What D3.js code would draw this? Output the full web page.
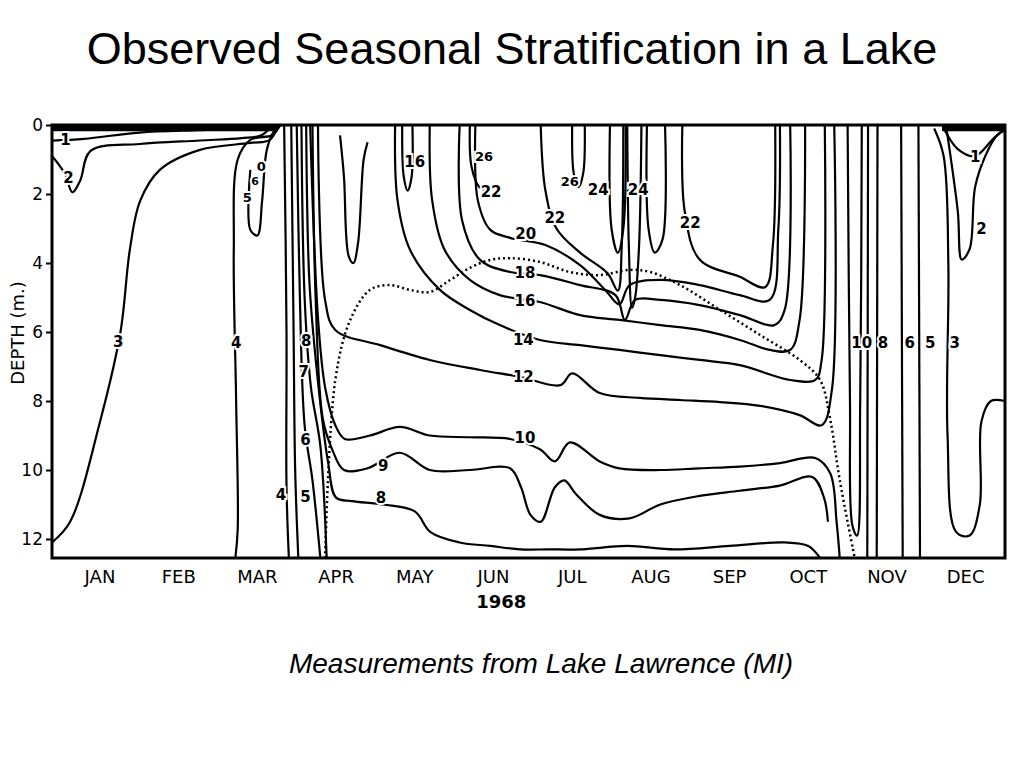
<!DOCTYPE html>
<html><head><meta charset="utf-8">
<script src="https://cdn.jsdelivr.net/npm/d3@7"></script>
<style>body{margin:0;background:#fff}</style></head>
<body><svg id="c" width="1024" height="768"></svg>
<script>
const months=["JAN","FEB","MAR","APR","MAY","JUN","JUL","AUG","SEP","OCT","NOV","DEC"];
const depthTicks=[0,2,4,6,8,10,12];
// isotherms: [month, depth]
const iso1=[[-0.11,0.45],[0.3,0.4],[1,0.22],[1.77,0.15],[2.4,0.1],[2.66,0]];
const iso2=[[-0.11,0.9],[0.05,1.4],[0.15,1.95],[0.25,1.6],[0.38,0.75],[1,0.55],[1.77,0.45],[2.3,0.38],[2.55,0.3],[2.66,0.08]];
const iso3=[[-0.11,12.1],[0.12,11.5],[0.5,8.6],[0.76,6],[0.88,3.6],[1.01,2.2],[1.26,1.3],[1.77,0.72],[2.41,0.52],[2.66,0.43],[2.76,0]];
const iso4=[[2.22,12.55],[2.25,11.7],[2.23,8],[2.2,3.6],[2.25,1.0],[2.41,0.43],[2.69,0.29],[2.79,0]];
const iso5=[[2.41,1.3],[2.41,3.04],[2.5,3.2],[2.56,2.2],[2.62,0.72],[2.72,0.15],[2.8,0]];
const iso4b=[[2.84,0],[2.87,6],[2.87,10.5],[2.9,12.55]];
const iso5b=[[2.93,0],[2.96,6],[2.98,10],[3.02,12.55]];
const iso6=[[3.0,0],[3.04,5],[3.1,8.7],[3.2,10.3],[3.3,12.55]];
const iso7=[[3.06,0],[3.1,5],[3.18,7.6],[3.3,9.3],[3.38,12.55]];
const iso8=[[3.12,0],[3.16,4.5],[3.25,7],[3.4,9.8],[3.5,10.8],[3.7,10.9],[4.1,11.0],[4.5,11.2],[4.7,11.8],[5.07,12.1],[5.46,12.2],[5.84,12.3],[6.2,12.3],[6.6,12.3],[7.2,12.2],[7.8,12.3],[8.5,12.2],[9.2,12.1],[9.5,12.2],[9.65,12.55]];
const iso9=[[3.2,0],[3.24,5],[3.33,8.5],[3.45,9.4],[3.6,10.0],[3.9,9.95],[4.31,9.5],[4.69,10.0],[5.2,10.0],[5.71,9.95],[5.85,10.5],[5.97,11.3],[6.1,11.5],[6.28,10.5],[6.4,10.3],[6.55,10.7],[6.85,11.3],[7.23,11.4],[7.62,11.0],[8.12,10.75],[8.63,10.6],[9.14,10.45],[9.55,10.2],[9.7,10.8],[9.75,11.5]];
const iso10=[[3.17,0],[3.27,5.59],[3.36,7.6],[3.49,8.7],[3.61,9.1],[3.93,9.0],[4.31,8.75],[4.69,9.0],[5.2,9.05],[5.71,9.1],[6.09,9.4],[6.28,9.75],[6.47,9.2],[6.85,9.75],[7.1,9.95],[7.62,10.0],[8.12,9.95],[8.63,9.9],[9.14,9.8],[9.59,9.65],[9.78,10.1],[9.86,11.5],[9.9,12.55]];
const iso12=[[3.27,0],[3.36,5.07],[3.49,5.94],[4.06,6.38],[4.69,6.81],[5.33,7.1],[5.84,7.3],[6.35,7.54],[6.5,7.2],[6.85,7.77],[7.36,7.91],[7.87,7.97],[8.38,8.03],[8.89,8.14],[9.39,8.41],[9.67,8.7],[9.8,7.68],[9.83,0]];
const iso14=[[4.25,0],[4.28,2.17],[4.44,3.62],[4.82,4.78],[5.2,5.36],[5.58,5.8],[6.09,6.23],[6.6,6.38],[7.1,6.52],[7.62,6.67],[8.12,6.81],[8.63,6.96],[9.27,7.39],[9.59,7.39],[9.67,6.81],[9.71,0]];
const iso16=[[4.69,0],[4.72,2.17],[4.88,3.62],[5.2,4.49],[5.58,4.93],[6.09,5.13],[6.6,5.51],[7.1,5.65],[7.62,5.8],[8.12,5.94],[8.63,6.23],[9.01,6.52],[9.27,6.52],[9.39,5.65],[9.46,0]];
const iso18=[[5.07,0],[5.1,2.75],[5.33,3.91],[5.71,4.26],[6.09,4.35],[6.6,4.64],[7.05,4.93],[7.17,5.65],[7.3,5.07],[7.62,5.07],[8.12,5.22],[8.63,5.51],[9.07,5.8],[9.2,5.36],[9.27,0]];
const iso20=[[5.27,0],[5.3,2.17],[5.46,3.04],[5.71,3.27],[6.16,3.48],[6.6,4.06],[6.92,4.78],[7.1,5.2],[7.23,4.64],[7.62,4.49],[8.12,4.64],[8.63,4.93],[9.01,5.07],[9.12,3],[9.14,0]];
const iso22a=[[5.2,0],[5.22,1.2],[5.32,1.8],[5.4,1.9]];
const iso22b=[[6.1,0],[6.16,1.9],[6.3,3.0],[6.6,3.7],[6.95,4.3],[7.08,4.8],[7.13,3.5],[7.15,0]];
const iso22c=[[7.9,0],[7.93,2.5],[8.12,3.9],[8.63,4.4],[8.95,4.7],[9.05,3.5],[9.08,0]];
const u16=[[4.34,0],[4.36,1.5],[4.41,1.9],[4.46,1.5],[4.47,0]];
const uMay=[[3.55,0.3],[3.6,1.5],[3.66,3.8],[3.72,4.0],[3.78,3.4],[3.85,1.0],[3.9,0.5]];
const u24a=[[6.5,0],[6.52,1.4],[6.58,1.8],[6.64,1.4],[6.66,0]];
const u24b=[[6.98,0],[7.0,3.0],[7.08,3.7],[7.15,3.0],[7.18,0]];
const uNotch=[[7.2,0],[7.22,3.5],[7.26,5.3],[7.3,5.0],[7.35,3.5],[7.38,0]];
const u22=[[7.45,0],[7.47,3.0],[7.55,3.7],[7.65,3.3],[7.68,0]];
const iso12r=[[10.0,0],[10.03,8],[10.06,11.6],[10.12,11.9],[10.16,8],[10.18,0]];
const isoR1=[[10.26,0],[10.25,12.55]];
const isoR2=[[10.38,0],[10.37,12.55]];
const isoR3=[[10.68,0],[10.7,12.55]];
const isoR4=[[10.9,0],[10.92,12.55]];
const iso3r=[[11.1,0.1],[11.22,0.9],[11.28,4],[11.27,9],[11.38,11.8],[11.55,11.9],[11.68,11],[11.7,8.6],[11.82,8.0],[12.0,8.0]];
const iso2r=[[11.25,0],[11.4,2.5],[11.45,3.9],[11.55,3.6],[11.62,1.8],[11.75,0.9],[11.9,0.3],[12,0.15]];
const iso1r=[[11.2,0],[11.4,0.7],[11.62,0.9],[11.85,0.4],[12,0.1]];
const thermocline=[[3.36,12.55],[3.49,7.39],[3.68,5.65],[3.93,4.78],[4.18,4.64],[4.44,4.78],[4.69,4.84],[4.95,4.49],[5.2,4.14],[5.46,3.91],[5.71,3.86],[6.09,3.97],[6.47,4.26],[6.85,4.35],[7.23,4.2],[7.49,4.26],[7.87,4.64],[8.38,5.36],[8.89,6.09],[9.39,6.81],[9.65,7.39],[9.78,8.55],[9.9,10.29],[10.09,12.55]];
const iceL=[[-0.11,0.08],[2.75,0.08]];
const iceR=[[11.2,0.08],[12,0.08]];
const labels=[["1",0.06,0.43,15],["2",0.1,1.54,15],["3",0.73,6.29,15],["4",2.23,6.32,15],["0",2.55,1.2,13],["6",2.47,1.65,11],["5",2.37,2.09,13],["8",3.12,6.26,15],["7",3.09,7.16,15],["6",3.11,9.13,15],["4",2.8,10.72,15],["5",3.11,10.78,15],["16",4.5,1.07,15],["26",5.38,0.9,13],["22",5.47,1.94,15],["26",6.47,1.65,13],["24",6.83,1.88,15],["24",7.34,1.88,15],["22",6.28,2.7,15],["22",8.0,2.84,15],["20",5.91,3.16,15],["18",5.9,4.29,15],["16",5.9,5.1,15],["14",5.88,6.23,15],["12",5.88,7.3,15],["10",5.9,9.07,15],["9",4.1,9.88,15],["8",4.07,10.81,15],["10",10.18,6.32,15],["8",10.45,6.32,15],["6",10.79,6.32,15],["5",11.05,6.32,15],["3",11.36,6.32,15],["1",11.62,0.93,15],["2",11.7,3.01,15]];

const lines=[iso1,iso2,iso3,iso4,iso5,iso4b,iso5b,iso6,iso7,iso8,iso9,iso10,iso12,iso14,iso16,iso18,iso20,iso22a,iso22b,iso22c,u16,uMay,u24a,u24b,uNotch,u22,iso12r,isoR1,isoR2,isoR3,isoR4,iso3r,iso2r,iso1r];

const svg=d3.select("#c");
const x=d3.scaleLinear().domain([-0.11,12]).range([52,1005]);
const y=d3.scaleLinear().domain([0,12.55]).range([125,558]);
svg.append("defs").append("clipPath").attr("id","cp").append("rect").attr("x",52).attr("y",125).attr("width",953).attr("height",433);
const g=svg.append("g").attr("clip-path","url(#cp)");
const ln=d3.line().x(d=>x(d[0])).y(d=>y(d[1])).curve(d3.curveCatmullRom.alpha(0.5));
lines.forEach(l=>g.append("path").attr("d",ln(l)).attr("fill","none").attr("stroke","#000").attr("stroke-width",2.2));
g.append("path").attr("d",ln(thermocline)).attr("fill","none").attr("stroke","#000").attr("stroke-width",2.5).attr("stroke-dasharray","2,3");
[iceL,iceR].forEach(l=>g.append("path").attr("d",d3.line().x(d=>x(d[0])).y(d=>y(d[1]))(l)).attr("stroke","#000").attr("stroke-width",7));
svg.append("rect").attr("x",52).attr("y",125).attr("width",953).attr("height",433).attr("fill","none").attr("stroke","#000").attr("stroke-width",3);
labels.forEach(l=>svg.append("text").attr("x",x(l[1])).attr("y",y(l[2])).attr("text-anchor","middle").attr("dominant-baseline","central")
  .attr("font-family","DejaVu Sans").attr("font-weight","bold").attr("font-size",l[3])
  .attr("stroke","#fff").attr("stroke-width",4).attr("paint-order","stroke").text(l[0]));
const ya=svg.append("g").attr("transform","translate(52,0)").call(d3.axisLeft(y).tickValues(depthTicks).tickSize(6).tickFormat(d3.format("d")));
ya.select(".domain").remove();
ya.selectAll("line").attr("stroke-width",2);
ya.selectAll("text").attr("font-family","DejaVu Sans").attr("font-size",17).attr("x",-9);
const xm=d3.scaleBand().domain(months).range([x(0),x(12)]);
months.forEach(m=>svg.append("text").attr("x",xm(m)+xm.bandwidth()/2).attr("y",583).attr("text-anchor","middle")
  .attr("font-family","DejaVu Sans").attr("font-size",18).text(m));
svg.append("text").attr("x",x(5.6)).attr("y",608).attr("text-anchor","middle").attr("font-family","DejaVu Sans").attr("font-weight","bold").attr("font-size",18).text("1968");
svg.append("text").attr("transform","translate(24,333) rotate(-90)").attr("text-anchor","middle").attr("font-family","DejaVu Sans").attr("font-size",18).text("DEPTH (m.)");
svg.append("text").attr("x",512).attr("y",64).attr("text-anchor","middle").attr("font-family","Liberation Sans").attr("font-size",45).text("Observed Seasonal Stratification in a Lake");
svg.append("text").attr("x",541).attr("y",673).attr("text-anchor","middle").attr("font-family","Liberation Sans").attr("font-style","italic").attr("font-size",28).text("Measurements from Lake Lawrence (MI)");
</script></body></html>
